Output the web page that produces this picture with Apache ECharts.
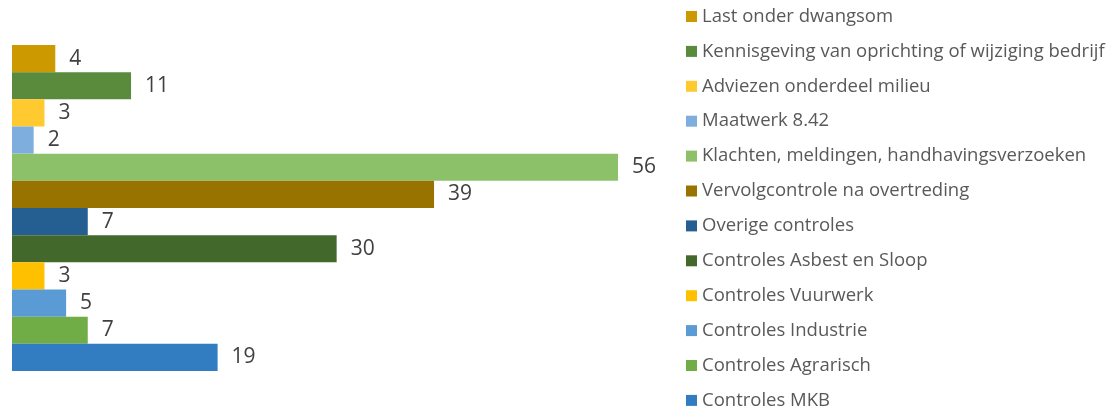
<!DOCTYPE html>
<html>
<head>
<meta charset="utf-8">
<script src="https://cdn.jsdelivr.net/npm/echarts@6/dist/echarts.min.js"></script>
<style>
  html, body { margin: 0; padding: 0; background: #fff; }
  #chart { width: 1116px; height: 410px; }
</style>
</head>
<body>
<div id="chart"></div>
<script>
// series names, top to bottom
const names = [
  "Last onder dwangsom",
  "Kennisgeving van oprichting of wijziging bedrijf",
  "Adviezen onderdeel milieu",
  "Maatwerk 8.42",
  "Klachten, meldingen, handhavingsverzoeken",
  "Vervolgcontrole na overtreding",
  "Overige controles",
  "Controles Asbest en Sloop",
  "Controles Vuurwerk",
  "Controles Industrie",
  "Controles Agrarisch",
  "Controles MKB"
];
const values = [4, 11, 3, 2, 56, 39, 7, 30, 3, 5, 7, 19];
const colors = [
  "#CC9900", "#5A8A3B", "#FFC930", "#7DAEDD", "#8DC169", "#997300",
  "#255E91", "#43682B", "#FFC000", "#5B9BD5", "#70AD47", "#327DC2"
];

const chart = echarts.init(document.getElementById("chart"));

const series = names.map((n, i) => {
  return {
    name: n,
    type: "bar",
    data: [values[i]],
    barGap: "0%",
    barCategoryGap: "0%",
    itemStyle: { color: colors[i] },
    label: {
      show: true,
      position: "right",
      distance: 14,
      color: "#404040",
      fontSize: 21,
      fontFamily: "Open Sans"
    }
  };
});

chart.setOption({
  animation: false,
  textStyle: { fontFamily: "Open Sans" },
  grid: { left: 12, top: 45, width: 606, height: 326 },
  xAxis: { type: "value", min: 0, max: 56, show: false },
  yAxis: { type: "category", data: [""], inverse: true, show: false },
  legend: {
    type: "plain",
    orient: "vertical",
    left: 686,
    top: 7,
    height: 403,
    padding: 0,
    itemWidth: 11,
    itemHeight: 11,
    itemGap: 15.9,
    icon: "rect",
    textStyle: {
      color: "#595959",
      fontSize: 18.5,
      fontFamily: "Open Sans"
    },
    data: names
  },
  series: series
});
</script>
</body>
</html>
